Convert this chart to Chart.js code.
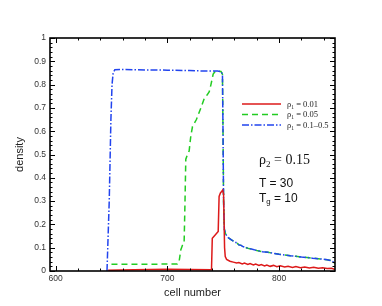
<!DOCTYPE html>
<html>
<head>
<meta charset="utf-8">
<script src="https://cdn.jsdelivr.net/npm/chart.js@4"></script>
<style>
  body { margin: 0; background: #fff; }
  #wrap { position: relative; width: 382px; height: 306px; }
  #chart { position: absolute; left: 0; top: 0; }
  .lbl { position: absolute; white-space: nowrap; line-height: 1; color: #111; }
  .leg { font-family: "Liberation Serif", serif; font-size: 8.5px; color: #222; }
  .ann { font-family: "Liberation Sans", Arial, sans-serif; font-size: 12px; }
  .serif { font-family: "Liberation Serif", serif; font-size: 14px; }
  .lbl sub { font-size: 65%; vertical-align: -0.3em; line-height: 0; }
</style>
</head>
<body>
<div id="wrap">
  <canvas id="chart" width="382" height="306"></canvas>
  <div class="lbl leg" style="left:287px; top:99.5px;">ρ<sub>1</sub> = 0.01</div>
  <div class="lbl leg" style="left:287px; top:110px;">ρ<sub>1</sub> = 0.05</div>
  <div class="lbl leg" style="left:287px; top:120.5px;">ρ<sub>1</sub> = 0.1–0.5</div>
  <div class="lbl serif" style="left:259px; top:153px;">ρ<sub>2</sub> = 0.15</div>
  <div class="lbl ann" style="left:259px; top:177px;">T = 30</div>
  <div class="lbl ann" style="left:259px; top:192px;">T<sub>g</sub> = 10</div>
</div>
<script>
// tick labels
const xTicks = [600, 700, 800];
const yTicks = [0, 0.1, 0.2, 0.3, 0.4, 0.5, 0.6, 0.7, 0.8, 0.9, 1];

// rho1 = 0.01 (red)
const redX = [647, 670, 700, 720, 739.5, 740.2, 742, 745.5, 746.3, 747.5, 749.5, 750.3, 751.2, 751.8, 753, 756, 759, 762, 764, 767, 769, 772, 774, 777, 779, 782, 784, 787, 789, 792, 795, 798, 801, 805, 808, 812, 815, 819, 823, 827, 831, 835, 839, 843, 847, 850];
const redY = [0.003, 0.005, 0.008, 0.006, 0.005, 0.14, 0.15, 0.17, 0.32, 0.335, 0.347, 0.33, 0.1, 0.062, 0.05, 0.042, 0.038, 0.034, 0.036, 0.03, 0.034, 0.028, 0.032, 0.026, 0.03, 0.024, 0.028, 0.022, 0.026, 0.02, 0.024, 0.018, 0.022, 0.017, 0.02, 0.015, 0.019, 0.014, 0.017, 0.013, 0.016, 0.012, 0.014, 0.011, 0.012, 0.006];

// rho1 = 0.05 (green), rising part; after 743 it runs on the blue curve
const greenX = [650, 680, 709, 710.5, 712, 713.5, 715, 715.8, 716.5, 718, 719.5, 721, 722.5, 726, 730, 733, 735.5, 737.5, 739, 741, 743];
const greenY = [0.029, 0.029, 0.03, 0.04, 0.09, 0.11, 0.12, 0.3, 0.48, 0.5, 0.515, 0.58, 0.62, 0.65, 0.7, 0.74, 0.755, 0.77, 0.8, 0.845, 0.858];

// rho1 = 0.1-0.5 (blue)
const blueX = [646, 648, 649.5, 650.5, 651.5, 653, 660, 680, 700, 720, 735, 745, 748, 749.3, 749.8, 750.3, 751, 752, 754, 757, 760, 762, 764, 766, 768, 772, 776, 780, 785, 790, 795, 800, 805, 810, 815, 820, 825, 830, 835, 840, 843, 846, 848, 850];
const blueY = [0, 0.3, 0.65, 0.8, 0.85, 0.864, 0.865, 0.863, 0.862, 0.86, 0.858, 0.858, 0.856, 0.845, 0.6, 0.3, 0.18, 0.16, 0.145, 0.135, 0.125, 0.121, 0.112, 0.11, 0.104, 0.098, 0.093, 0.088, 0.083, 0.08, 0.076, 0.072, 0.069, 0.065, 0.063, 0.06, 0.058, 0.055, 0.053, 0.05, 0.048, 0.045, 0.04, 0.033];

const pts = (xs, ys) => xs.map((x, i) => ({x: x, y: ys[i]}));
const bluePts = pts(blueX, blueY);
const greenPts = pts(greenX, greenY).concat(bluePts.filter(p => p.x > 743));

// frame with inward ticks on all four sides + legend line samples
const frame = {
  id: 'frame',
  afterDatasetsDraw(chart) {
    const {ctx, chartArea: a, scales: {x, y}} = chart;
    ctx.save();
    ctx.strokeStyle = '#000';
    ctx.lineWidth = 1;
    ctx.beginPath();
    for (let v = 600; v <= 850; v += 20) {
      const px = Math.round(x.getPixelForValue(v)) + 0.5;
      const len = xTicks.includes(v) ? 5 : 2.5;
      ctx.moveTo(px, a.bottom); ctx.lineTo(px, a.bottom - len);
      ctx.moveTo(px, a.top); ctx.lineTo(px, a.top + len);
    }
    for (let k = 0; k <= 50; k++) {
      const py = Math.round(y.getPixelForValue(k * 0.02)) + 0.5;
      const len = k % 5 === 0 ? 5 : 2.5;
      ctx.moveTo(a.left, py); ctx.lineTo(a.left + len, py);
      ctx.moveTo(a.right, py); ctx.lineTo(a.right - len, py);
    }
    ctx.stroke();
    ctx.lineWidth = 1.6;
    ctx.strokeRect(a.left, a.top, a.right - a.left, a.bottom - a.top);

    // legend samples
    const rows = [104, 114.5, 125];
    chart.data.datasets.forEach((ds, i) => {
      ctx.beginPath();
      ctx.strokeStyle = ds.borderColor;
      ctx.lineWidth = ds.borderWidth;
      ctx.setLineDash(ds.borderDash || []);
      ctx.moveTo(242, rows[i]); ctx.lineTo(281, rows[i]);
      ctx.stroke();
    });
    ctx.restore();
  }
};

const axisFont = {family: '"Liberation Sans", Arial, sans-serif'};

new Chart(document.getElementById('chart'), {
  type: 'line',
  data: {
    datasets: [
      {label: 'rho1 = 0.01', data: pts(redX, redY), borderColor: '#dd1a1a', borderWidth: 1.5, order: 0},
      {label: 'rho1 = 0.05', data: greenPts, borderColor: '#22cc22', borderWidth: 1.5, borderDash: [6, 4], order: 2},
      {label: 'rho1 = 0.1-0.5', data: bluePts, borderColor: '#2244ee', borderWidth: 1.5, borderDash: [7, 2, 1.5, 2], order: 1}
    ]
  },
  options: {
    responsive: false,
    animation: false,
    layout: {padding: {top: 38, right: 47, left: 0, bottom: 0}},
    elements: {point: {radius: 0}, line: {tension: 0, fill: false}},
    plugins: {legend: {display: false}, tooltip: {enabled: false}},
    scales: {
      x: {
        type: 'linear', min: 595, max: 850,
        afterBuildTicks: s => { s.ticks = xTicks.map(v => ({value: v})); },
        afterFit: s => { s.height = 35; },
        grid: {display: false, drawTicks: false, tickLength: 0},
        border: {display: false},
        ticks: {padding: 3, color: '#333', font: {...axisFont, size: 8.5}},
        title: {display: true, text: 'cell number', color: '#222', padding: {top: 0, bottom: 6}, font: {...axisFont, size: 11}}
      },
      y: {
        type: 'linear', min: 0, max: 1,
        afterBuildTicks: s => { s.ticks = yTicks.map(v => ({value: v})); },
        afterFit: s => { s.width = 50; },
        grid: {display: false, drawTicks: false, tickLength: 0},
        border: {display: false},
        ticks: {padding: 4, color: '#333', font: {...axisFont, size: 8.5}, callback: v => String(Math.round(v * 10) / 10)},
        title: {display: true, text: 'density', color: '#222', padding: {top: 13, bottom: 0}, font: {...axisFont, size: 11}}
      }
    }
  },
  plugins: [frame]
});
</script>
</body>
</html>
